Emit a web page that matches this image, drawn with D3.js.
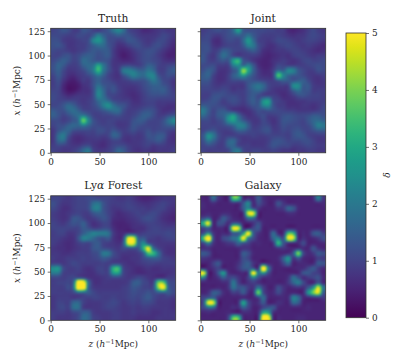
<!DOCTYPE html>
<html><head><meta charset="utf-8">
<style>html,body{margin:0;background:#fff}svg{display:block}text{font-family:"DejaVu Serif",serif;fill:#262626}</style>
<script src="https://cdn.jsdelivr.net/npm/d3@7"></script></head><body><svg id="c" width="407" height="360"></svg>
<script>
// delta x 10, rows from high x (top) to low x, columns from low z to high z
const truth=[
[10,11,13,12,9,9,13,12,10,9,11,13,18,23,18,11,9,8,6,6,7,8,9,8,8],
[11,11,10,9,9,11,11,10,14,22,16,12,12,14,13,13,11,9,8,8,8,9,11,10,8],
[12,12,9,8,8,9,10,11,22,26,20,12,11,9,10,13,13,11,9,8,9,11,11,9,7],
[12,13,11,8,8,9,9,11,14,17,17,13,10,7,7,9,11,12,10,9,11,12,10,8,6],
[11,10,10,9,8,9,10,12,14,13,14,14,9,6,5,6,8,10,11,12,12,10,8,6,5],
[10,10,12,13,10,11,14,15,14,12,13,14,9,6,4,5,7,9,11,12,11,9,7,5,5],
[11,13,15,13,10,11,17,16,14,13,13,12,8,7,6,6,7,9,11,12,11,10,8,7,7],
[12,16,14,10,9,10,15,17,18,30,20,13,8,8,10,11,10,9,11,15,14,10,9,10,11],
[12,15,11,8,8,9,11,15,20,34,20,13,9,8,20,22,20,16,15,19,17,10,9,12,14],
[10,14,10,7,6,8,9,11,14,19,15,10,8,7,12,17,22,19,17,22,23,13,10,12,11],
[9,12,8,5,4,6,9,8,12,15,12,11,9,8,9,10,12,12,12,15,20,16,11,10,8],
[9,11,6,3,3,4,7,8,12,18,14,12,12,9,8,8,8,9,11,13,15,15,13,11,8],
[10,10,6,3,3,5,7,7,11,22,17,11,13,10,8,7,7,8,10,12,14,14,15,12,9],
[11,10,8,6,7,8,8,8,11,23,18,11,10,9,8,7,6,7,9,11,12,12,12,11,10],
[11,10,10,10,10,9,8,9,11,17,19,16,11,10,9,9,7,7,9,10,10,9,9,9,9],
[10,11,13,17,15,11,9,9,11,14,21,26,19,14,13,10,8,8,9,10,10,8,8,7,7],
[14,12,12,16,18,15,11,10,10,11,13,16,18,18,12,9,9,10,12,13,12,9,7,7,8],
[15,13,10,12,15,18,20,15,10,9,10,10,11,12,10,9,10,12,15,15,12,9,9,11,13],
[11,11,9,10,13,16,40,24,13,10,9,10,10,9,9,9,12,14,14,11,10,10,12,18,24],
[10,12,12,15,17,16,20,16,12,11,10,10,10,8,8,9,13,12,11,10,10,10,12,14,15],
[8,12,15,16,12,11,11,11,10,12,12,10,13,11,9,10,12,10,10,12,10,11,11,10,9],
[8,17,21,13,8,7,8,9,9,10,9,10,16,15,9,8,9,8,9,13,12,14,14,9,7],
[8,16,18,10,7,6,7,8,8,8,7,8,10,10,8,7,8,8,9,11,12,14,12,8,7],
[9,11,10,9,8,8,10,11,8,7,6,8,10,11,11,9,8,8,9,10,8,9,9,8,8],
[10,9,8,8,9,11,16,20,10,8,8,9,11,16,14,10,8,7,8,8,7,8,8,8,9]];
const joint=[
[9,10,11,12,11,12,16,28,14,12,12,11,11,10,10,9,9,6,5,6,7,9,11,9,8],
[10,11,9,8,10,12,13,14,14,19,14,11,9,9,9,10,9,8,7,8,8,10,11,10,9],
[11,11,7,6,9,11,11,10,16,27,18,10,9,8,9,11,11,10,9,8,9,10,10,9,8],
[12,12,8,7,9,10,10,10,13,21,20,12,9,7,7,9,10,11,10,9,8,9,8,7,6],
[12,12,9,10,15,14,11,10,10,12,14,11,7,6,7,8,8,9,10,10,9,8,7,6,7],
[13,10,8,12,18,15,11,9,9,9,9,8,6,5,6,7,8,7,9,10,10,9,8,9,9],
[13,10,9,11,13,12,27,34,14,11,8,6,5,5,7,8,9,8,7,8,10,11,10,10,11],
[11,11,12,9,9,9,20,24,16,22,14,7,5,5,7,11,10,9,9,9,9,10,11,12,11],
[12,15,13,8,7,8,12,17,44,30,16,9,6,6,9,16,14,24,23,14,11,9,9,12,11],
[14,16,10,7,7,9,15,19,26,18,13,9,7,7,9,38,24,16,14,13,11,9,8,8,9],
[13,13,9,7,7,9,11,11,12,13,12,11,10,9,9,13,15,14,12,14,15,11,8,7,8],
[11,11,9,8,9,9,8,8,8,13,17,20,17,11,9,9,9,9,24,25,14,14,9,8,8],
[10,10,10,10,11,10,8,9,9,12,15,17,14,10,8,7,7,8,14,18,13,13,9,9,9],
[9,9,12,13,12,11,11,10,9,12,14,11,9,9,9,8,6,7,9,12,13,11,10,10,9],
[10,11,13,12,9,11,12,11,9,12,15,12,24,28,12,10,8,7,7,8,8,9,9,9,9],
[14,13,12,11,10,9,10,9,8,10,13,13,22,24,13,9,9,7,7,7,8,8,7,8,10],
[21,15,10,13,14,11,8,7,6,7,9,12,11,13,12,11,10,9,9,8,8,8,8,9,11],
[17,13,10,14,15,22,28,17,10,7,8,10,12,9,9,10,12,13,12,11,11,12,14,14,12],
[11,11,9,11,13,24,28,20,14,10,8,8,11,9,7,9,13,13,12,11,10,13,16,17,15],
[10,10,10,10,11,13,16,22,22,15,9,9,11,11,8,9,12,11,11,11,10,11,15,22,20],
[10,12,13,10,9,9,11,15,15,12,10,10,12,13,9,9,11,10,12,13,11,10,12,14,14],
[13,26,21,12,9,9,9,9,9,9,10,9,9,10,10,10,10,9,12,14,13,10,9,9,9],
[12,20,16,11,9,15,17,11,8,8,8,8,8,9,12,13,12,10,11,11,12,12,10,8,8],
[10,12,11,9,9,15,16,10,9,9,8,8,8,10,13,12,11,11,9,9,10,11,10,9,9],
[10,9,9,9,9,10,17,20,11,9,10,10,9,9,10,9,8,8,7,8,8,9,9,8,8]];
const lya=[
[10,10,9,8,9,10,10,11,11,10,10,10,9,8,8,9,8,6,5,5,6,7,8,8,8],
[12,10,8,8,9,10,10,11,17,19,13,10,9,9,9,10,9,8,7,7,8,9,10,9,8],
[11,9,7,7,9,10,10,11,20,22,13,10,8,8,9,10,10,9,9,8,9,10,10,8,7],
[9,8,7,8,9,10,9,9,13,15,13,10,8,6,7,8,9,10,9,10,11,10,8,7,6],
[9,8,7,8,13,13,10,8,9,11,13,11,7,6,6,7,8,9,11,12,11,9,7,6,5],
[10,9,8,10,13,12,15,10,7,8,10,10,6,5,5,6,7,8,9,10,10,9,8,7,7],
[10,10,10,10,10,10,14,12,9,9,11,11,7,5,5,5,7,7,7,9,10,10,9,9,9],
[9,10,10,8,8,10,14,18,22,21,21,19,9,6,6,8,8,8,9,10,10,10,10,11,10],
[9,9,8,7,7,12,22,21,17,13,12,14,8,6,9,48,52,16,14,10,9,8,9,10,10],
[9,8,7,6,7,9,11,10,13,14,10,9,8,7,12,50,55,18,24,12,9,8,8,8,8],
[8,7,7,6,7,8,9,9,13,14,11,10,9,8,11,13,14,13,30,50,18,10,8,7,7],
[8,8,7,7,8,9,9,9,11,12,20,20,12,9,8,8,8,9,14,36,34,19,9,7,7],
[9,8,8,9,9,9,10,9,10,11,14,13,10,9,7,7,8,8,11,14,15,14,10,9,8],
[9,9,8,9,11,10,9,9,9,9,10,9,9,9,8,7,7,8,9,10,10,9,9,9,9],
[24,26,12,9,9,10,8,7,8,10,10,10,30,34,11,8,7,6,7,8,7,7,8,8,8],
[20,20,10,9,9,9,8,7,7,9,10,10,26,28,11,8,7,6,6,7,7,7,7,7,8],
[10,10,9,10,11,13,12,8,7,7,8,9,10,10,9,8,9,11,10,8,7,8,8,9,9],
[9,10,10,11,14,65,65,20,8,7,8,8,8,8,8,9,14,15,11,10,9,40,42,14,11],
[9,9,9,12,15,65,65,18,9,8,8,8,8,8,9,10,13,12,10,10,11,38,55,17,11],
[9,9,9,9,10,14,14,14,11,9,9,9,9,9,9,10,12,11,11,13,11,13,13,14,11],
[8,9,9,9,8,9,10,9,10,10,9,9,10,9,9,10,11,10,12,14,11,9,9,9,8],
[8,10,10,9,16,17,10,8,8,8,9,10,11,10,8,9,10,9,11,11,10,8,8,8,7],
[8,10,11,9,17,18,9,8,8,8,9,10,10,9,8,8,9,8,9,9,8,8,8,8,7],
[9,9,9,8,10,11,15,15,9,8,8,8,9,9,8,8,9,8,8,8,7,7,8,8,8],
[9,8,8,8,9,11,17,16,10,9,8,8,9,9,8,8,8,7,7,7,7,8,8,8,8]];
const galaxy=[
[5,5,18,8,5,5,36,36,6,6,5,14,7,5,5,5,5,5,5,5,5,5,6,22,8],
[6,5,7,5,5,5,8,7,12,24,6,12,8,5,5,13,8,5,5,5,5,5,5,6,6],
[6,5,5,5,5,5,5,5,14,22,10,8,5,5,5,8,8,16,14,6,5,5,5,5,5],
[5,6,5,5,6,6,5,5,6,48,52,7,5,5,5,5,5,7,7,5,5,5,5,5,5],
[10,14,5,6,14,10,6,5,5,18,18,5,5,5,5,5,5,5,5,5,5,5,5,5,5],
[30,55,6,12,12,6,12,12,5,5,7,12,6,5,5,5,5,5,5,5,5,5,5,5,5],
[10,14,5,6,6,6,52,52,8,5,10,14,5,5,5,5,5,5,5,5,5,5,5,5,5],
[10,22,8,5,6,5,14,14,22,55,16,8,5,5,17,6,5,32,32,6,6,5,13,15,9],
[32,75,14,5,11,13,19,22,55,22,12,6,5,5,16,20,10,52,52,7,7,5,6,8,12],
[10,22,8,5,6,8,9,16,14,10,6,6,5,5,7,34,14,8,7,6,12,5,5,5,6],
[6,7,5,5,5,5,5,6,7,7,5,5,5,5,5,8,8,6,5,6,6,5,13,7,5],
[14,12,5,5,5,5,5,5,14,12,6,5,5,5,5,5,5,6,12,42,12,6,8,14,12],
[8,7,5,5,5,5,5,5,12,10,5,5,5,5,5,6,14,26,8,14,6,5,5,9,8],
[5,5,9,14,6,5,5,7,12,15,8,5,6,5,5,5,10,18,5,6,6,5,5,14,13],
[5,5,7,10,5,5,5,8,13,14,12,6,65,22,6,5,5,5,5,6,6,10,14,9,6],
[60,7,5,13,28,8,5,5,6,8,58,20,26,12,5,5,5,5,5,5,13,14,10,9,5],
[20,5,5,7,14,10,12,8,5,9,20,12,6,6,5,5,5,7,18,13,6,8,10,13,6],
[5,5,5,5,6,7,20,10,5,7,9,7,5,5,5,5,5,8,15,21,12,6,5,14,6],
[5,5,5,6,5,7,18,13,14,9,7,20,10,5,5,12,8,5,6,7,6,14,25,50,20],
[5,7,15,14,7,5,9,8,14,7,6,40,12,6,6,11,7,5,6,5,5,25,38,48,14],
[10,14,16,7,5,5,5,5,6,5,5,8,18,6,5,5,6,6,22,18,6,5,6,7,8],
[10,52,52,6,5,5,5,6,30,12,6,7,14,5,5,7,6,5,16,14,5,5,5,5,5],
[10,15,15,5,5,5,7,6,14,10,5,5,10,14,14,6,5,5,5,5,5,6,5,5,5],
[5,6,5,5,5,6,6,5,6,6,5,6,30,30,7,5,5,5,5,5,5,5,5,5,5],
[5,5,5,5,5,9,38,38,7,5,5,6,60,60,7,6,5,5,5,6,6,5,5,5,5]];
const xTicks=[0,50,100], yTicks=[0,25,50,75,100,125], cbTicks=[0,1,2,3,4,5];

const svg=d3.select("#c"), W=125, H=124.5, span=[0,128], fine=3;
const color=d3.scaleSequential(d3.interpolateViridis).domain([0,50]).clamp(true);
const defs=svg.append("defs");
defs.append("filter").attr("id","soft").attr("filterUnits","userSpaceOnUse")
  .attr("x",-30).attr("y",-30).attr("width",W+60).attr("height",H+60)
  .attr("color-interpolation-filters","sRGB")
  .append("feGaussianBlur").attr("stdDeviation",.8);
const edge="#333";
// display resampling of the read grid, as imshow's bicubic interpolation does
const cub=(a,b,c,d,t)=>b+.5*t*(c-a+t*(2*a-5*b+4*c-d+t*(3*(b-c)+d-a)));
function sample(grid,u,v){
  const n=grid.length-1, cl=i=>Math.max(0,Math.min(n,i));
  const c0=Math.floor(u), r0=Math.floor(v), tu=u-c0, tv=v-r0;
  const rowAt=r=>{const R=grid[cl(r)];return cub(R[cl(c0-1)],R[cl(c0)],R[cl(c0+1)],R[cl(c0+2)],tu);};
  return cub(rowAt(r0-1),rowAt(r0),rowAt(r0+1),rowAt(r0+2),tv);
}
function panel(name,grid,left,top,showY,showXLabel,titleNodes){
  const g=svg.append("g").attr("transform",`translate(${left},${top})`);
  const id="clip"+name, N=25*fine;
  defs.append("clipPath").attr("id",id).append("rect").attr("width",W).attr("height",H);
  const xb=d3.scaleBand().domain(d3.range(N)).range([0,W]);
  const yb=d3.scaleBand().domain(d3.range(N)).range([0,H]);
  const cells=[];
  for(let r=0;r<N;r++)for(let c=0;c<N;c++)cells.push({r,c,v:sample(grid,(c+.5)/fine-.5,(r+.5)/fine-.5)});
  const pad=4;
  g.append("g").attr("clip-path",`url(#${id})`).append("g").attr("filter","url(#soft)")
   .selectAll("rect").data(cells).join("rect").attr("shape-rendering","crispEdges")
   .attr("x",d=>xb(d.c)-(d.c==0?pad:0)).attr("y",d=>yb(d.r)-(d.r==0?pad:0))
   .attr("width",d=>xb.bandwidth()+(d.c==0||d.c==N-1?pad:0)+.6)
   .attr("height",d=>yb.bandwidth()+(d.r==0||d.r==N-1?pad:0)+.6)
   .attr("fill",d=>color(d.v));
  const x=d3.scaleLinear().domain(span).range([0,W]), y=d3.scaleLinear().domain(span).range([H,0]);
  const ax=g.append("g").attr("transform",`translate(0,${H})`).call(d3.axisBottom(x).tickValues(xTicks).tickFormat(d3.format("d")).tickSize(3).tickPadding(2.5));
  const ay=g.append("g").call(d3.axisLeft(y).tickValues(yTicks).tickFormat(showY?d3.format("d"):"").tickSize(3).tickPadding(2.5));
  [ax,ay].forEach(a=>{a.select(".domain").remove();a.selectAll("line").attr("stroke",edge).attr("stroke-width",.7);
    a.selectAll("text").attr("font-size",8.9).attr("font-family","DejaVu Serif").attr("fill","#262626");});
  g.append("rect").attr("width",W).attr("height",H).attr("fill","none").attr("stroke",edge).attr("stroke-width",.8);
  const t=g.append("text").attr("x",W/2).attr("y",-6.5).attr("text-anchor","middle").attr("font-size",10.7);
  titleNodes.forEach(([s,it])=>t.append("tspan").text(s).attr("font-style",it?"italic":null));
  const lab=(sel,v)=>{sel.attr("text-anchor","middle").attr("font-size",8.9);
    sel.append("tspan").text(v).attr("font-style","italic");
    sel.append("tspan").text(" (");sel.append("tspan").text("h").attr("font-style","italic");
    sel.append("tspan").text("−1").attr("font-size",6.4).attr("dy",-3.2);
    sel.append("tspan").text("Mpc)").attr("dy",3.2);};
  if(showY) lab(g.append("text").attr("transform",`translate(${20-left},${H/2}) rotate(-90)`),"x");
  if(showXLabel) lab(g.append("text").attr("x",W/2).attr("y",H+27),"z");
}
panel("a",truth,50.7,28.3,true,false,[["Truth"]]);
panel("b",joint,200.7,28.3,false,false,[["Joint"]]);
panel("c",lya,50.7,195.8,true,true,[["Ly"],["α",1],[" Forest"]]);
panel("d",galaxy,200.7,195.8,false,true,[["Galaxy"]]);

// colour bar
const cbY=d3.scaleLinear().domain([0,5]).range([317.7,33]);
const grad=defs.append("linearGradient").attr("id","vir").attr("x1",0).attr("x2",0).attr("y1",1).attr("y2",0);
d3.range(0,1.001,.05).forEach(t=>grad.append("stop").attr("offset",t).attr("stop-color",d3.interpolateViridis(t)));
svg.append("rect").attr("x",346).attr("y",33).attr("width",20).attr("height",284.7).attr("fill","url(#vir)").attr("stroke",edge).attr("stroke-width",.8);
const cb=svg.append("g").attr("transform","translate(366,0)").call(d3.axisRight(cbY).tickValues(cbTicks).tickFormat(d3.format("d")).tickSize(3).tickPadding(3));
cb.select(".domain").remove();cb.selectAll("line").attr("stroke",edge).attr("stroke-width",.7);
cb.selectAll("text").attr("font-size",8.9).attr("font-family","DejaVu Serif").attr("fill","#262626");
svg.append("text").attr("transform","translate(390,175) rotate(-90)").attr("text-anchor","middle").attr("font-size",8.9).attr("font-style","italic").text("δ");
</script></body></html>
